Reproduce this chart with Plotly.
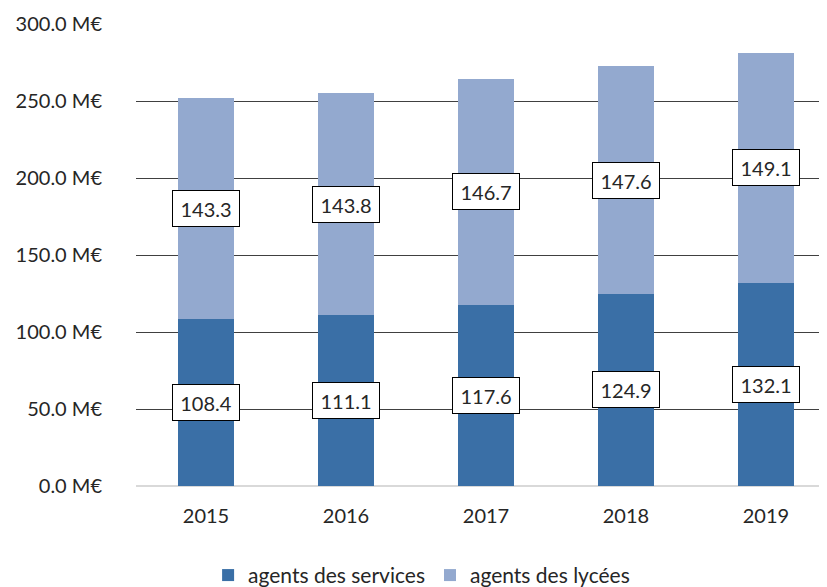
import plotly.graph_objects as go

years = ["2015", "2016", "2017", "2018", "2019"]
services = [108.4, 111.1, 117.6, 124.9, 132.1]
lycees = [143.3, 143.8, 146.7, 147.6, 149.1]
y_ticks = [0, 50, 100, 150, 200, 250, 300]

dark = "#3A6FA6"
light = "#93A9CF"
font = "Lato, Open Sans, sans-serif"

fig = go.Figure()
fig.add_trace(go.Bar(x=years, y=services, name="agents des services",
                     marker=dict(color=dark, line=dict(width=0)), width=0.4))
fig.add_trace(go.Bar(x=years, y=lycees, name="agents des lycées",
                     marker=dict(color=light, line=dict(width=0)), width=0.4))

for i, (s, l) in enumerate(zip(services, lycees)):
    for val, mid in ((s, s / 2), (l, s + l / 2)):
        fig.add_annotation(x=i, y=mid, xref="x", yref="y", text=f"{val:.1f}",
                           showarrow=False,
                           bgcolor="white", bordercolor="black", borderwidth=1,
                           borderpad=5, width=56, height=25,
                           font=dict(family=font, size=20, color="#262626"))

fig.update_layout(
    width=819, height=579, barmode="stack",
    margin=dict(l=128, r=0, t=16, b=101),
    plot_bgcolor="white", paper_bgcolor="white",
    font=dict(family=font, size=20, color="#262626"),
    showlegend=True,
    legend=dict(orientation="h", xref="container", x=0.505, xanchor="center",
                yref="container", y=0.02, yanchor="middle",
                font=dict(size=21), traceorder="normal", itemwidth=30),
    xaxis=dict(type="category", range=[-0.5, 4.436], showgrid=False, showline=False,
               ticks="", tickfont=dict(size=20), automargin=False,
               ticklabelstandoff=16),
    yaxis=dict(range=[0, 300], tickvals=y_ticks, ticktext=[f"{v:.1f} M€" for v in y_ticks],
               showgrid=True, gridcolor="#404040", gridwidth=1,
               zeroline=True, zerolinecolor="#d9d9d9", zerolinewidth=2,
               ticklabelstandoff=33, tickfont=dict(size=20), automargin=False),
)

fig.write_html("out.html")
